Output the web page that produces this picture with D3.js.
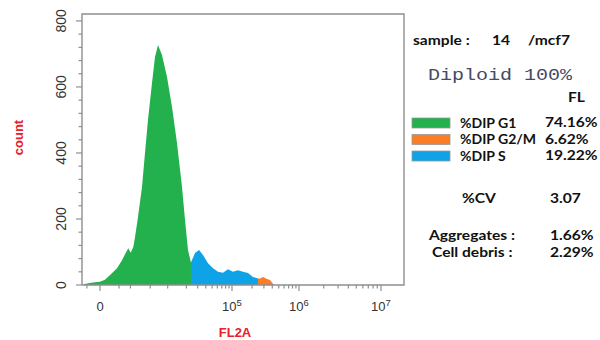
<!DOCTYPE html>
<html>
<head>
<meta charset="utf-8">
<script src="https://cdn.jsdelivr.net/npm/d3@7"></script>
<style>
  html, body { margin: 0; padding: 0; background: #fff; }
  svg { display: block; }
  .panel { font-family: Lato, "Liberation Sans", sans-serif; font-weight: bold; fill: #111; }
</style>
</head>
<body>
<div id="chart"></div>
<script>
(function () {
  // FL2A bin values and counts
  const fl2aValues = [
    -850, -730, -440, -200, 0, 200, 450, 860, 1225, 1500, 1783, 2027, 2318, 2525,
    2915, 3505, 4000, 4550, 5385, 6085, 6865, 8035, 9750, 11780, 14180, 17050,
    19030, 21190, 23600, 27260, 31460, 36230, 43220, 51550, 61400, 73100, 86970,
    103500, 123000, 146000, 174000, 206000, 245000, 262000, 291000, 334000,
    370000, 410000, 430000
  ];
  const counts = [
    0, 3, 6, 8, 10, 16, 30, 51, 75, 95, 111, 98, 115, 145,
    206, 297, 400, 500, 612, 691, 727, 697, 630, 539, 430, 297,
    197, 106, 68, 97, 106, 91, 66, 51, 40, 37, 48,
    40, 45, 40, 36, 24, 20, 20, 24, 18,
    15, 4, 0
  ];

  // gates: G1 up to the first value, S up to the second, G2/M after
  const gateLimits = [23600, 245000];

  const phaseLabels = ["%DIP G1", "%DIP G2/M", "%DIP S"];
  const phasePercents = ["74.16%", "6.62%", "19.22%"];
  const phaseColors = ["#22b14c", "#fb7d25", "#0ea2e6"];

  const yTicks = [0, 200, 400, 600, 800];
  const xMajorTicks = [0, 1e5, 1e6, 1e7];
  const xTickExponents = [null, 5, 6, 7];
  const xMinorTicks = [
    -600, 1e3, 2e3, 5e3, 1e4, 2e4, 3e4, 4e4, 5e4, 6e4, 7e4, 8e4, 9e4,
    2e5, 3e5, 4e5, 5e5, 6e5, 7e5, 8e5, 9e5,
    2e6, 3e6, 4e6, 5e6, 6e6, 7e6, 8e6, 9e6
  ];

  const statLabels = ["%CV", "Aggregates :", "Cell debris :"];
  const statValues = ["3.07", "1.66%", "2.29%"];

  const width = 600;
  const height = 340;
  const plot = { left: 82, right: 404, top: 14, bottom: 285 };
  const axisGrey = "#8f8f8f";
  const stretch = 1.2;

  const points = fl2aValues.map((v, i) => ({ v, c: counts[i] }));

  const x = d3.scaleSymlog()
    .constant(1083)
    .domain([-900, 0, 1e5, 1e6, 1e7, 1.9e7])
    .range([plot.left, 100, 232, 299, 381, plot.right]);

  const y = d3.scaleLinear()
    .domain([0, 821])
    .range([plot.bottom, plot.top]);

  const svg = d3.select("#chart")
    .append("svg")
    .attr("width", width)
    .attr("height", height);

  // histogram, coloured by gate
  const area = d3.area()
    .x((d) => x(d.v))
    .y0(y(0))
    .y1((d) => y(d.c));

  const regions = [
    { lo: -Infinity, hi: gateLimits[0], color: phaseColors[0] },
    { lo: gateLimits[0], hi: gateLimits[1], color: phaseColors[2] },
    { lo: gateLimits[1], hi: Infinity, color: phaseColors[1] }
  ];

  svg.append("g")
    .selectAll("path")
    .data(regions)
    .join("path")
    .attr("fill", (r) => r.color)
    .attr("d", (r) => area(points.filter((p) => p.v >= r.lo && p.v <= r.hi)));

  // frame
  svg.append("path")
    .attr("fill", "none")
    .attr("stroke", axisGrey)
    .attr("stroke-width", 1.4)
    .attr("d", `M${plot.left},${plot.bottom}V${plot.top}H${plot.right}V${plot.bottom}H${plot.left}`);

  // y axis ticks
  const yMinor = d3.range(0, 821, 40);
  svg.append("g")
    .selectAll("line")
    .data(yMinor)
    .join("line")
    .attr("x1", plot.left)
    .attr("x2", (v) => plot.left - (yTicks.includes(v) ? 6 : 3.5))
    .attr("y1", (v) => y(v))
    .attr("y2", (v) => y(v))
    .attr("stroke", axisGrey)
    .attr("stroke-width", 1.2);

  svg.append("g")
    .selectAll("text")
    .data(yTicks)
    .join("text")
    .attr("transform", (v) => `translate(66,${y(v)}) rotate(-90)`)
    .attr("text-anchor", "middle")
    .attr("font-family", "Liberation Sans, Arial, sans-serif")
    .attr("font-size", 14)
    .attr("fill", "#333")
    .text((v) => v);

  svg.append("text")
    .attr("transform", `translate(23,${(plot.top + plot.bottom) / 2 - 12}) rotate(-90)`)
    .attr("text-anchor", "middle")
    .attr("font-family", "Liberation Sans, Arial, sans-serif")
    .attr("font-weight", "bold")
    .attr("font-size", 13)
    .attr("fill", "#e8202a")
    .text("count");

  // x axis ticks
  svg.append("g")
    .selectAll("line")
    .data(xMajorTicks.map((v) => ({ v, major: true })).concat(xMinorTicks.map((v) => ({ v, major: false }))))
    .join("line")
    .attr("x1", (d) => x(d.v))
    .attr("x2", (d) => x(d.v))
    .attr("y1", plot.bottom)
    .attr("y2", (d) => plot.bottom + (d.major ? 6 : 3.5))
    .attr("stroke", axisGrey)
    .attr("stroke-width", 1.2);

  const xLabels = svg.append("g")
    .selectAll("text")
    .data(xMajorTicks)
    .join("text")
    .attr("x", (v) => x(v))
    .attr("y", 311)
    .attr("text-anchor", "middle")
    .attr("font-family", "Liberation Sans, Arial, sans-serif")
    .attr("font-size", 13)
    .attr("fill", "#333");

  xLabels.each(function (v, i) {
    const t = d3.select(this);
    if (xTickExponents[i] === null) {
      t.text(d3.format("d")(v));
      return;
    }
    t.append("tspan").text("10");
    t.append("tspan")
      .attr("dy", -5)
      .attr("font-size", 9.5)
      .text(xTickExponents[i]);
  });

  svg.append("text")
    .attr("x", 235)
    .attr("y", 337)
    .attr("text-anchor", "middle")
    .attr("font-family", "Liberation Sans, Arial, sans-serif")
    .attr("font-weight", "bold")
    .attr("font-size", 13)
    .attr("fill", "#e8202a")
    .text("FL2A");

  // right-hand panel (text in the picture is stretched sideways)
  const panel = svg.append("g").attr("class", "panel");

  function panelText(px, py, str, sx) {
    return panel.append("text")
      .attr("transform", `translate(${px},${py}) scale(${sx || stretch},1)`)
      .attr("font-size", 13)
      .text(str);
  }

  panelText(413, 45, "sample :");
  panelText(492, 45, "14");
  panelText(528, 45, "/mcf7");

  panel.append("text")
    .attr("x", 428)
    .attr("y", 80)
    .attr("font-family", "Liberation Mono, monospace")
    .attr("font-weight", "normal")
    .attr("font-size", 16)
    .attr("fill", "#464a66")
    .attr("textLength", 144)
    .attr("lengthAdjust", "spacingAndGlyphs")
    .text("Diploid 100%");

  panelText(568, 102, "FL");

  const rowY = (i) => 118 + i * 16.5;

  panel.selectAll("rect.swatch")
    .data(phaseColors)
    .join("rect")
    .attr("class", "swatch")
    .attr("x", 412)
    .attr("y", (c, i) => rowY(i))
    .attr("width", 38)
    .attr("height", 10)
    .attr("fill", (c) => c)
    .attr("stroke", "#9a9a9a")
    .attr("stroke-width", 0.8);

  phaseLabels.forEach((label, i) => panelText(460, rowY(i) + 9.5, label, 1.08));
  phasePercents.forEach((pct, i) => panelText(545, rowY(i) + 9, pct));

  const statY = [203, 240, 257];
  const statX = [462, 429, 432];

  statLabels.forEach((label, i) => panelText(statX[i], statY[i], label));
  statValues.forEach((val, i) => panelText(550, statY[i], val));
}());
</script>
</body>
</html>
